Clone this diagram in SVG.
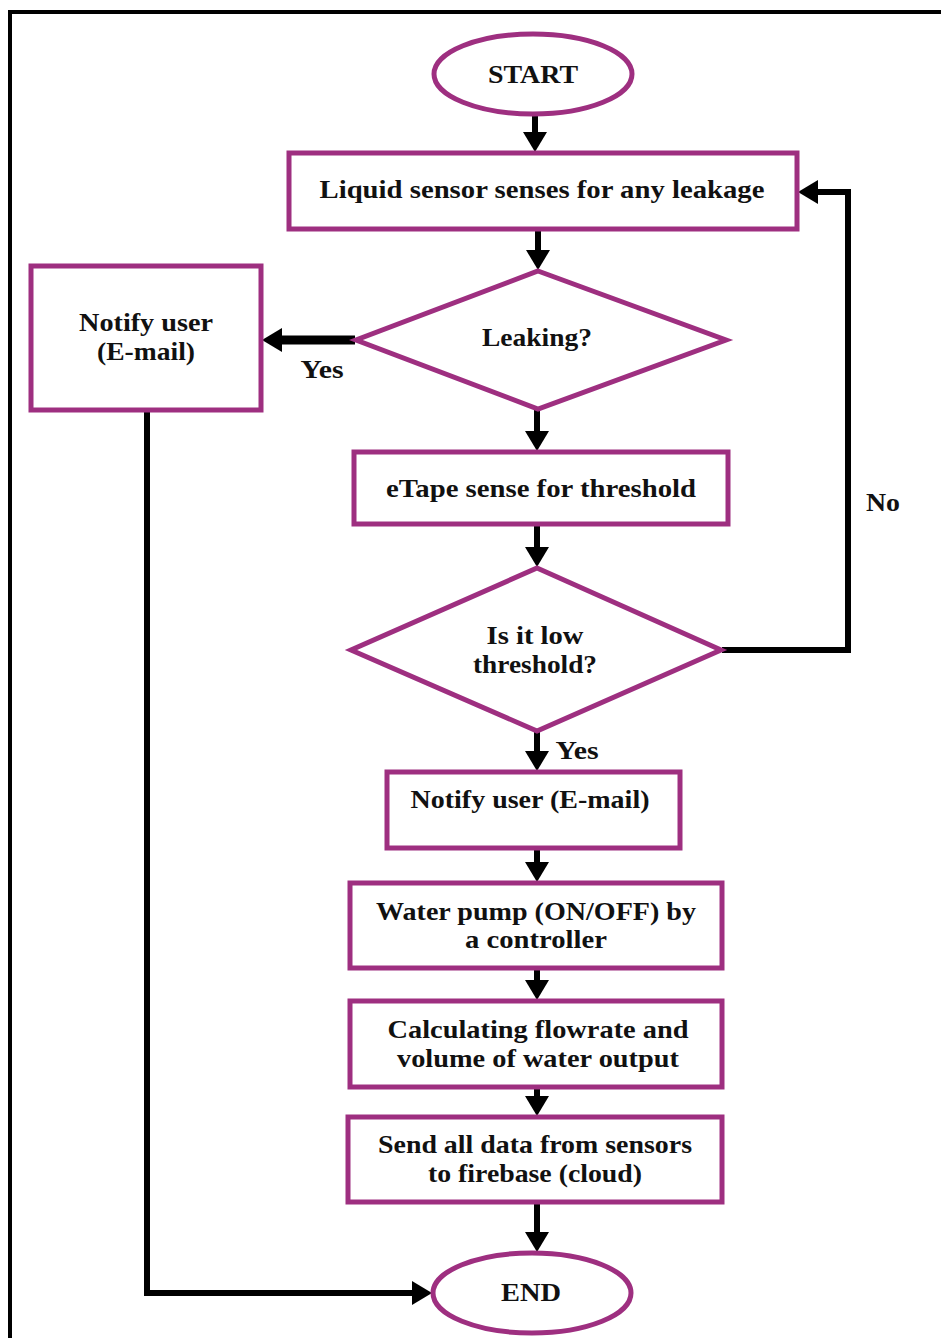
<svg xmlns="http://www.w3.org/2000/svg" width="941" height="1338" viewBox="0 0 941 1338">
<style>
.n{fill:#fff;stroke:#9e2f80;stroke-width:5}
.t{font-family:"Liberation Serif","Times New Roman",serif;font-weight:bold;font-size:25px;fill:#111;text-anchor:middle}
.c{fill:none;stroke:#000;stroke-width:6;stroke-linejoin:miter}
.ct{fill:none;stroke:#000;stroke-width:9}
</style>
<defs>
<marker id="ah" viewBox="0 0 20 24" refX="10" refY="12" markerWidth="20" markerHeight="24" markerUnits="userSpaceOnUse" orient="auto">
<path d="M0,0 L20,12 L0,24 z" fill="#000"/>
</marker>
</defs>
<rect x="0" y="0" width="941" height="1338" fill="#fff"/>
<rect x="10" y="12" width="940" height="1340" fill="none" stroke="#000" stroke-width="4"/>
<g id="connectors">
<path class="c" d="M535,114 V142" marker-end="url(#ah)"/>
<path class="c" d="M538,230 V260" marker-end="url(#ah)"/>
<path class="ct" d="M355,340 H272" marker-end="url(#ah)"/>
<path class="c" d="M537,410 V441" marker-end="url(#ah)"/>
<path class="c" d="M537,525 V557" marker-end="url(#ah)"/>
<path class="c" d="M722,650 H848 V192 H808" marker-end="url(#ah)"/>
<path class="c" d="M537,732 V761" marker-end="url(#ah)"/>
<path class="c" d="M537,849 V872" marker-end="url(#ah)"/>
<path class="c" d="M537,969 V990" marker-end="url(#ah)"/>
<path class="c" d="M537,1088 V1106" marker-end="url(#ah)"/>
<path class="c" d="M537,1203 V1242" marker-end="url(#ah)"/>
<path class="c" d="M147,411 V1293 H422" marker-end="url(#ah)"/>
<text class="t" x="322" y="378" textLength="43" lengthAdjust="spacingAndGlyphs">Yes</text>
<text class="t" x="883" y="511" textLength="34" lengthAdjust="spacingAndGlyphs">No</text>
<text class="t" x="577" y="759" textLength="43" lengthAdjust="spacingAndGlyphs">Yes</text>
</g>
<g id="start">
<ellipse class="n" cx="533" cy="74" rx="99" ry="40"/>
<text class="t" x="533" y="83" textLength="90" lengthAdjust="spacingAndGlyphs">START</text>
</g>
<g id="liquid">
<rect class="n" x="289" y="153" width="508" height="76"/>
<text class="t" x="542" y="198" textLength="445" lengthAdjust="spacingAndGlyphs">Liquid sensor senses for any leakage</text>
</g>
<g id="leaking">
<polygon class="n" points="538,271 726,340 538,409 356,340"/>
<text class="t" x="537" y="346" textLength="110" lengthAdjust="spacingAndGlyphs">Leaking?</text>
</g>
<g id="notify1">
<rect class="n" x="31" y="266" width="230" height="144"/>
<text class="t" x="146" y="331" textLength="134" lengthAdjust="spacingAndGlyphs">Notify user</text>
<text class="t" x="146" y="360" textLength="98" lengthAdjust="spacingAndGlyphs">(E-mail)</text>
</g>
<g id="etape">
<rect class="n" x="354" y="452" width="374" height="72"/>
<text class="t" x="541" y="497" textLength="310" lengthAdjust="spacingAndGlyphs">eTape sense for threshold</text>
</g>
<g id="lowthreshold">
<polygon class="n" points="537,568 721,650 537,731 351,650"/>
<text class="t" x="535" y="644" textLength="97" lengthAdjust="spacingAndGlyphs">Is it low</text>
<text class="t" x="535" y="673" textLength="124" lengthAdjust="spacingAndGlyphs">threshold?</text>
</g>
<g id="notify2">
<rect class="n" x="387" y="772" width="293" height="76"/>
<text class="t" x="530" y="808" textLength="239" lengthAdjust="spacingAndGlyphs">Notify user (E-mail)</text>
</g>
<g id="pump">
<rect class="n" x="350" y="883" width="372" height="85"/>
<text class="t" x="536" y="920" textLength="320" lengthAdjust="spacingAndGlyphs">Water pump (ON/OFF) by</text>
<text class="t" x="536" y="948" textLength="142" lengthAdjust="spacingAndGlyphs">a controller</text>
</g>
<g id="calc">
<rect class="n" x="350" y="1001" width="372" height="86"/>
<text class="t" x="538" y="1038" textLength="301" lengthAdjust="spacingAndGlyphs">Calculating flowrate and</text>
<text class="t" x="538" y="1067" textLength="282" lengthAdjust="spacingAndGlyphs">volume of water output</text>
</g>
<g id="send">
<rect class="n" x="348" y="1117" width="374" height="85"/>
<text class="t" x="535" y="1153" textLength="314" lengthAdjust="spacingAndGlyphs">Send all data from sensors</text>
<text class="t" x="535" y="1182" textLength="214" lengthAdjust="spacingAndGlyphs">to firebase (cloud)</text>
</g>
<g id="end">
<ellipse class="n" cx="532" cy="1293" rx="99" ry="40"/>
<text class="t" x="531" y="1301" textLength="60" lengthAdjust="spacingAndGlyphs">END</text>
</g>
</svg>
